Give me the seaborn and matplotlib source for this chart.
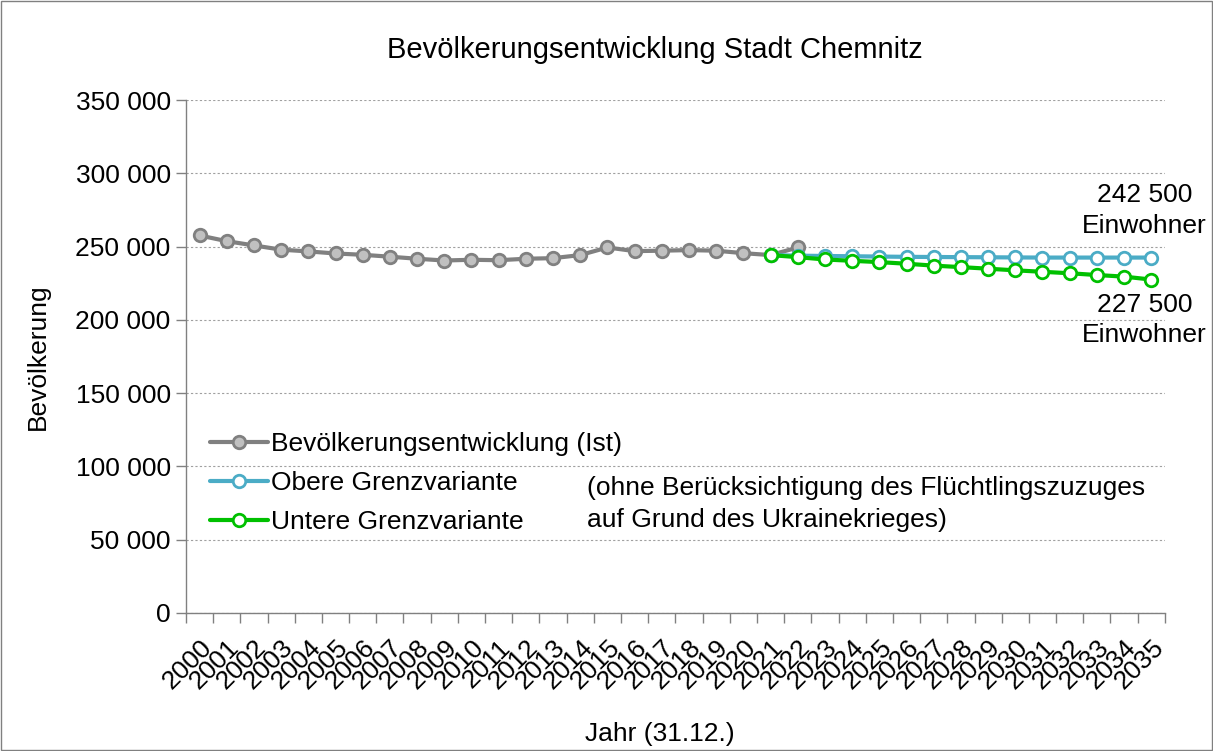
import numpy as np
import pandas as pd
import matplotlib
matplotlib.use("Agg")
import matplotlib.pyplot as plt
import matplotlib.ticker as mticker
import seaborn as sns
from matplotlib.patches import Rectangle

# Data (Einwohner, 31.12.)
years = list(range(2000, 2036))
ist_years = list(range(2000, 2023))
ist_values = [257600, 253700, 250800, 247900, 246700, 245300, 244400, 243100,
              241700, 240500, 241000, 240700, 241700, 242100, 244200, 249400,
              246900, 247200, 247600, 247200, 245500, 244200, 249400]
var_years = list(range(2021, 2036))
obere_values = [244200, 243800, 243600, 243400, 243200, 243000, 242900, 242800,
                242700, 242600, 242500, 242500, 242500, 242500, 242500]
untere_values = [244200, 242800, 241200, 240300, 239400, 238300, 237000, 236000,
                 234900, 233800, 232800, 231800, 230600, 229500, 227500]

labels = ["Bevölkerungsentwicklung (Ist)", "Obere Grenzvariante", "Untere Grenzvariante"]

pos = {y: i for i, y in enumerate(years)}
df_ist = pd.DataFrame({"x": [pos[y] for y in ist_years], "v": ist_values})
df_ob = pd.DataFrame({"x": [pos[y] for y in var_years], "v": obere_values})
df_un = pd.DataFrame({"x": [pos[y] for y in var_years], "v": untere_values})

sns.set_theme(style="white")
plt.rcParams["font.family"] = ["Liberation Sans", "DejaVu Sans"]
plt.rcParams["text.color"] = "black"
plt.rcParams["axes.labelcolor"] = "black"
plt.rcParams["xtick.color"] = "black"
plt.rcParams["ytick.color"] = "black"

fig = plt.figure(figsize=(12.13, 7.51), dpi=100)
ax = fig.add_axes([0.1533, 0.1838, 0.807, 0.683])

sns.lineplot(ax=ax, data=df_ist, x="x", y="v", color="#808080", linewidth=3,
             marker="o", markersize=9, markerfacecolor="#C0C0C0",
             markeredgecolor="#808080", markeredgewidth=2, label=labels[0])
sns.lineplot(ax=ax, data=df_ob, x="x", y="v", color="#4BACC6", linewidth=3,
             marker="o", markersize=9, markerfacecolor="white",
             markeredgecolor="#4BACC6", markeredgewidth=2, label=labels[1])
sns.lineplot(ax=ax, data=df_un, x="x", y="v", color="#00C000", linewidth=3,
             marker="o", markersize=9, markerfacecolor="white",
             markeredgecolor="#00C000", markeredgewidth=2, label=labels[2])

ax.set_xlim(-0.5, len(years) - 0.5)
ax.set_ylim(0, 350000)
ax.yaxis.set_major_locator(mticker.MultipleLocator(50000))
ax.yaxis.set_major_formatter(mticker.FuncFormatter(lambda v, p: f"{int(v):,}".replace(",", " ")))
ax.yaxis.grid(True, linestyle=(0, (2, 2)), color="#A0A0A0", linewidth=0.8)
ax.xaxis.grid(False)

ax.set_xticks(range(len(years)))
ax.set_xticklabels([str(y) for y in years], rotation=45, ha="right",
                   rotation_mode="anchor")
ax.set_xticks(np.arange(-0.5, len(years)), minor=True)
ax.tick_params(axis="x", which="major", length=0, pad=16, labelsize=19)
ax.tick_params(axis="x", which="minor", length=7, width=1, color="#808080", bottom=True)
ax.tick_params(axis="y", which="major", length=7, width=1, color="#808080", left=True,
               labelsize=19, pad=4)

for s in ["top", "right"]:
    ax.spines[s].set_visible(False)
for s in ["left", "bottom"]:
    ax.spines[s].set_color("#808080")
    ax.spines[s].set_linewidth(1)

ax.set_xlabel("Jahr (31.12.)", fontsize=19)
ax.set_ylabel("Bevölkerung", fontsize=19)
ax.xaxis.set_label_coords(0.484, -0.212)
ax.yaxis.set_label_coords(-0.139, 0.5)

fig.text(0.5396, 1 - 50 / 751, "Bevölkerungsentwicklung Stadt Chemnitz",
         ha="center", va="center", fontsize=21)

ax.legend(loc="upper left", bbox_to_anchor=(0.025, 0.352), frameon=False,
          fontsize=19, handlelength=2.2, handletextpad=0.1, labelspacing=0.57,
          borderaxespad=0, borderpad=0)

ax.annotate("242 500\nEinwohner", xy=(pos[2035], obere_values[-1]),
            xytext=(-5, 34), textcoords="offset points", ha="center", va="center",
            fontsize=19, linespacing=1.35, annotation_clip=False)
ax.annotate("227 500\nEinwohner", xy=(pos[2035], untere_values[-1]),
            xytext=(-5, -29), textcoords="offset points", ha="center", va="center",
            fontsize=19, linespacing=1.35, annotation_clip=False)

ax.text(0.41, 0.267, "(ohne Berücksichtigung des Flüchtlingszuzuges\nauf Grund des Ukrainekrieges)",
        transform=ax.transAxes, ha="left", va="top", fontsize=19, linespacing=1.4)

fig.patches.append(Rectangle((0.001, 0.001), 0.998, 0.998, transform=fig.transFigure,
                             fill=False, edgecolor="#808080", linewidth=1))

fig.savefig("out.png", dpi=100)
